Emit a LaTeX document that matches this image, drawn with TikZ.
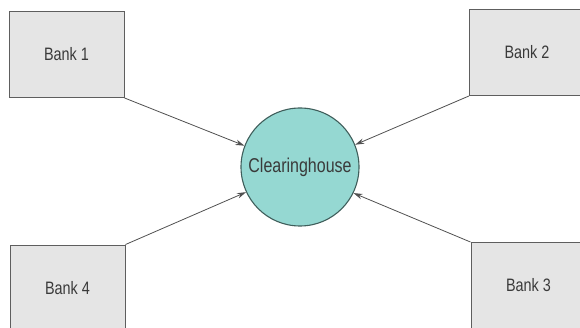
\documentclass[tikz,border=0pt]{standalone}
\usepackage{fontspec}
\setmainfont{Liberation Sans}
\newfontfamily\condfont[FakeStretch=0.8]{Liberation Sans}
\usetikzlibrary{arrows.meta}
\definecolor{boxfill}{HTML}{E5E5E5}
\definecolor{boxline}{HTML}{5E5E5E}
\definecolor{circfill}{HTML}{95D8D2}
\definecolor{circline}{HTML}{3F5E5B}
\definecolor{txt}{HTML}{3A3A3A}
\definecolor{arr}{HTML}{505050}
\tikzset{
  bank/.style={draw=boxline, fill=boxfill, line width=0.9pt, minimum width=115pt, minimum height=86pt, inner sep=0pt, text=txt, font=\condfont\fontsize{18}{20}\selectfont},
  hub/.style={circle, draw=circline, fill=circfill, line width=1.1pt, minimum size=118pt, inner sep=0pt, text=txt, font=\condfont\fontsize{20}{22}\selectfont},
  flow/.style={draw=arr, line width=0.8pt, -{Stealth[length=9pt,width=5.5pt]}}
}
\begin{document}
\begin{tikzpicture}[x=1pt,y=-1pt]
\useasboundingbox (0,0) rectangle (580,328);
\node[bank] (b1) at (66.5,54.5) {Bank 1};
\node[bank] (b2) at (527,52.5) {Bank 2};
\node[bank] (b3) at (528.5,285.5) {Bank 3};
\node[bank] (b4) at (67.5,288) {Bank 4};
\node[hub] (c) at (300,167) {Clearinghouse};
\draw[flow] (b1.south east) -- (c.159);
\draw[flow] (b2.south west) -- (c.22);
\draw[flow] (b3.north west) -- (c.-26);
\draw[flow] (b4.north east) -- (c.205);
\end{tikzpicture}
\end{document}
